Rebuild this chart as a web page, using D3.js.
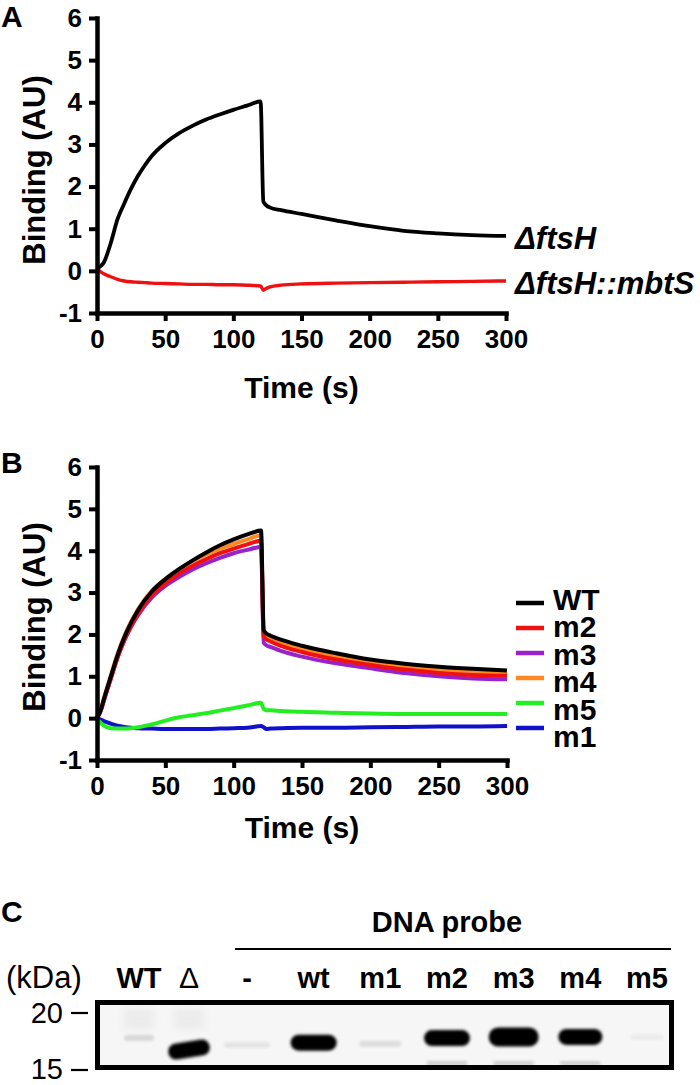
<!DOCTYPE html>
<html>
<head>
<meta charset="utf-8">
<script src="https://cdn.jsdelivr.net/npm/d3@7"></script>
<style>
  html, body { margin: 0; padding: 0; background: #fff; }
  svg { display: block; font-family: "Liberation Sans", Arial, Helvetica, sans-serif; }
</style>
</head>
<body>
<svg id="fig" width="700" height="1085"></svg>
<script>
// ---------------- Panel A data ----------------
const timeA = [0, 3, 5, 10, 15, 20, 25, 30, 35, 40, 50, 60, 70, 80, 90, 100, 110, 120, 122, 124, 127, 135, 150, 175, 200, 225, 250, 275, 300];
const ftsH = [0.05, 0.12, 0.2, 0.65, 1.22, 1.6, 1.95, 2.25, 2.5, 2.72, 3.03, 3.26, 3.44, 3.59, 3.71, 3.82, 3.92, 4.02, 1.65, 1.56, 1.5, 1.44, 1.35, 1.2, 1.06, 0.95, 0.89, 0.85, 0.83];
const ftsHmbtS = [0.05, -0.03, -0.07, -0.14, -0.2, -0.24, -0.26, -0.27, -0.28, -0.29, -0.3, -0.31, -0.32, -0.32, -0.33, -0.33, -0.34, -0.36, -0.46, -0.42, -0.38, -0.34, -0.31, -0.29, -0.28, -0.27, -0.26, -0.25, -0.24];
const seriesNamesA = ["\u0394ftsH", "\u0394ftsH::mbtS"];
const seriesColorsA = ["#000000", "#ee1111"];

// ---------------- Panel B data ----------------
const timeB = [0, 3, 5, 10, 15, 20, 25, 30, 40, 50, 60, 70, 80, 90, 100, 110, 120, 122, 124, 127, 135, 150, 175, 200, 225, 250, 275, 300];
const WT = [0, 0.22, 0.45, 0.98, 1.5, 1.93, 2.28, 2.58, 3.02, 3.32, 3.56, 3.77, 3.96, 4.13, 4.27, 4.39, 4.48, 2.1, 2.02, 1.97, 1.87, 1.73, 1.55, 1.4, 1.3, 1.23, 1.18, 1.14];
const m2 = [0, 0.2, 0.42, 0.93, 1.44, 1.86, 2.2, 2.49, 2.93, 3.22, 3.45, 3.64, 3.8, 3.94, 4.05, 4.15, 4.24, 1.95, 1.88, 1.83, 1.72, 1.58, 1.4, 1.27, 1.16, 1.08, 1.03, 1.01];
const m3 = [0, 0.2, 0.42, 0.94, 1.45, 1.86, 2.19, 2.46, 2.88, 3.16, 3.37, 3.55, 3.7, 3.83, 3.94, 4.02, 4.09, 1.8, 1.74, 1.7, 1.6, 1.47, 1.31, 1.19, 1.08, 1.0, 0.95, 0.93];
const m4 = [0, 0.23, 0.47, 1.01, 1.53, 1.96, 2.31, 2.6, 3.04, 3.33, 3.56, 3.75, 3.91, 4.05, 4.16, 4.27, 4.37, 2.0, 1.95, 1.9, 1.8, 1.66, 1.48, 1.34, 1.23, 1.15, 1.1, 1.08];
const m5 = [-0.03, -0.12, -0.18, -0.24, -0.25, -0.25, -0.24, -0.22, -0.15, -0.06, 0.02, 0.07, 0.12, 0.18, 0.24, 0.3, 0.37, 0.22, 0.19, 0.19, 0.17, 0.15, 0.13, 0.11, 0.1, 0.1, 0.1, 0.1];
const m1 = [0, -0.04, -0.07, -0.13, -0.18, -0.21, -0.23, -0.24, -0.25, -0.26, -0.26, -0.26, -0.26, -0.25, -0.24, -0.23, -0.19, -0.22, -0.26, -0.25, -0.24, -0.23, -0.23, -0.22, -0.21, -0.2, -0.2, -0.19];
const seriesNamesB = ["WT", "m2", "m3", "m4", "m5", "m1"];
const seriesValuesB = [WT, m2, m3, m4, m5, m1];
const seriesColorsB = ["#000000", "#ee1111", "#9922cc", "#ff8822", "#22ee22", "#1111cc"];
const drawOrderB = ["m1", "m5", "m4", "m3", "m2", "WT"];

const yTicks = [-1, 0, 1, 2, 3, 4, 5, 6];
const xTicks = [0, 50, 100, 150, 200, 250, 300];

// ---------------- Panel C data ----------------
const controlLanes = ["WT", "\u0394"];
const probeLanes = ["-", "wt", "m1", "m2", "m3", "m4", "m5"];
const bandLanes = ["WT", "\u0394", "-", "wt", "m1", "m2", "m3", "m4", "m5"];
const bandKDa = [17.8, 16.8, 17.2, 17.4, 17.3, 17.8, 17.9, 17.9, 17.9];
const bandIntensity = [0.12, 1.0, 0.07, 1.0, 0.1, 1.0, 1.0, 1.0, 0.04];
const bandWidth = [30, 42, 46, 46, 42, 46, 50, 44, 34];
const faintLowerLanes = ["m2", "m3", "m4"];
const markerKDa = [20, 15];

const FONT = '"Liberation Sans", Arial, Helvetica, sans-serif';
const svg = d3.select("#fig");

const defs = svg.append("defs");
defs.append("filter").attr("id", "blur").attr("x", "-50%").attr("y", "-100%").attr("width", "200%").attr("height", "300%")
  .append("feGaussianBlur").attr("stdDeviation", 1.8);
defs.append("filter").attr("id", "blur2").attr("x", "-50%").attr("y", "-100%").attr("width", "200%").attr("height", "300%")
  .append("feGaussianBlur").attr("stdDeviation", 4);

function drawAxes(g, x, y, yTitleCenter, titleBaseline) {
  const ax = g.append("g").attr("transform", `translate(0,${y.range()[0]})`)
    .call(d3.axisBottom(x).tickValues(xTicks).tickFormat(d => String(d)).tickSize(8).tickSizeOuter(0).tickPadding(8.5));
  const ay = g.append("g").attr("transform", `translate(${x.range()[0]},0)`)
    .call(d3.axisLeft(y).tickValues(yTicks).tickFormat(d => String(d)).tickSize(8).tickSizeOuter(0).tickPadding(7));
  [ax, ay].forEach(a => {
    a.attr("font-family", null).attr("font-size", null);
    a.select(".domain").attr("stroke", "#000").attr("stroke-width", 4.5).attr("stroke-linecap", "square");
    a.selectAll(".tick line").attr("stroke", "#000").attr("stroke-width", 4);
    a.selectAll(".tick text").attr("fill", "#000").style("font-family", FONT)
      .style("font-size", "26px").style("font-weight", "bold");
  });
  ax.selectAll(".tick text").attr("dy", "0.71em");
  g.append("text").attr("x", (x.range()[0] + x.range()[1]) / 2).attr("y", titleBaseline)
    .attr("text-anchor", "middle").style("font-size", "30px").style("font-weight", "bold").text("Time (s)");
  g.append("text").attr("transform", `translate(45,${yTitleCenter}) rotate(-90)`)
    .attr("text-anchor", "middle").style("font-size", "31px").style("font-weight", "bold").text("Binding (AU)");
}

// ---------------- Panel A ----------------
{
  const g = svg.append("g");
  const x = d3.scaleLinear().domain([0, 300]).range([97, 506]);
  const y = d3.scaleLinear().domain([-1, 6]).range([313, 18]);
  g.append("text").attr("x", 1).attr("y", 27).style("font-size", "30px").style("font-weight", "bold").text("A");
  const line = d3.line().x((d, i) => x(timeA[i])).y(d => y(d)).curve(d3.curveMonotoneX);
  const seriesA = [ftsHmbtS, ftsH];
  const colsA = [seriesColorsA[1], seriesColorsA[0]];
  seriesA.forEach((s, k) => {
    g.append("path").attr("d", line(s)).attr("fill", "none").attr("stroke", colsA[k])
      .attr("stroke-width", k === 1 ? 3.8 : 3.4).attr("stroke-linejoin", "round");
  });
  drawAxes(g, x, y, 170, 398);
  [ftsH, ftsHmbtS].forEach((s, k) => {
    g.append("text").attr("x", 515).attr("y", y(s[s.length - 1]) + 13)
      .style("font-size", "31px").style("font-weight", "bold").style("font-style", "italic")
      .text(seriesNamesA[k]);
  });
}

// ---------------- Panel B ----------------
{
  const g = svg.append("g");
  const x = d3.scaleLinear().domain([0, 300]).range([97, 507]);
  const y = d3.scaleLinear().domain([-1, 6]).range([760, 467]);
  g.append("text").attr("x", 1).attr("y", 473).style("font-size", "30px").style("font-weight", "bold").text("B");
  const line = d3.line().x((d, i) => x(timeB[i])).y(d => y(d)).curve(d3.curveMonotoneX);
  drawOrderB.forEach(name => {
    const k = seriesNamesB.indexOf(name);
    g.append("path").attr("d", line(seriesValuesB[k])).attr("fill", "none").attr("stroke", seriesColorsB[k])
      .attr("stroke-width", 4).attr("stroke-linejoin", "round");
  });
  drawAxes(g, x, y, 617, 838);
  const legLine = d3.scalePoint().domain(seriesNamesB).range([603, 728]);
  const legText = d3.scalePoint().domain(seriesNamesB).range([610, 747]);
  seriesNamesB.forEach((name, k) => {
    g.append("line").attr("x1", 516).attr("x2", 544).attr("y1", legLine(name)).attr("y2", legLine(name))
      .attr("stroke", seriesColorsB[k]).attr("stroke-width", 4.5);
    g.append("text").attr("x", 553).attr("y", legText(name))
      .style("font-size", "30px").style("font-weight", "bold").text(name);
  });
}

// ---------------- Panel C ----------------
{
  const g = svg.append("g");
  g.append("text").attr("x", 1).attr("y", 922).style("font-size", "30px").style("font-weight", "bold").text("C");
  const xCtrl = d3.scalePoint().domain(controlLanes).range([139, 189]);
  const xProbe = d3.scalePoint().domain(probeLanes).range([247, 647]);
  const laneX = l => controlLanes.includes(l) ? xCtrl(l) : xProbe(l);
  const yKDa = d3.scaleLinear().domain([15, 20]).range([1070, 1013]);

  g.append("text").attr("x", 447).attr("y", 932).attr("text-anchor", "middle")
    .style("font-size", "29px").style("font-weight", "bold").text("DNA probe");
  g.append("line").attr("x1", 235).attr("x2", 671).attr("y1", 949).attr("y2", 949)
    .attr("stroke", "#000").attr("stroke-width", 2.2);

  g.append("text").attr("x", 6).attr("y", 988).style("font-size", "31px").text("(kDa)");
  bandLanes.forEach(l => {
    g.append("text").attr("x", laneX(l)).attr("y", 988).attr("text-anchor", "middle")
      .style("font-size", l === "\u0394" ? "30px" : "29px")
      .style("font-weight", l === "\u0394" ? "normal" : "bold").text(l);
  });

  g.append("rect").attr("x", 97.5).attr("y", 1002.5).attr("width", 574).attr("height", 65)
    .attr("fill", "#f6f6f6");
  ["WT", "\u0394"].forEach(l => {
    g.append("rect").attr("x", laneX(l) - 16).attr("y", 1008).attr("width", 32).attr("height", 22)
      .attr("fill", "#000").attr("opacity", 0.04).attr("filter", "url(#blur2)");
  });
  faintLowerLanes.forEach(l => {
    g.append("rect").attr("x", laneX(l) - 20).attr("y", 1061).attr("width", 40).attr("height", 5)
      .attr("fill", "#000").attr("opacity", 0.15).attr("filter", "url(#blur)");
  });
  bandLanes.forEach((l, i) => {
    const w = bandWidth[i];
    const h = bandIntensity[i] > 0.5 ? (l === "m3" ? 19 : 16) : 6;
    const cy = yKDa(bandKDa[i]);
    const r = g.append("rect").attr("x", laneX(l) - w / 2).attr("y", cy - h / 2)
      .attr("width", w).attr("height", h).attr("rx", h / 2).attr("ry", h / 2)
      .attr("fill", "#000").attr("opacity", bandIntensity[i]).attr("filter", "url(#blur)");
    if (l === "\u0394") r.attr("transform", `rotate(-9,${laneX(l)},${cy})`);
  });
  g.append("rect").attr("x", 97.5).attr("y", 1002.5).attr("width", 574).attr("height", 65)
    .attr("fill", "none").attr("stroke", "#000").attr("stroke-width", 5);

  markerKDa.forEach(k => {
    g.append("text").attr("x", 63).attr("y", yKDa(k) + (k === 15 ? 9 : 10)).attr("text-anchor", "end")
      .style("font-size", "29px").text(String(k));
    g.append("line").attr("x1", 71).attr("x2", 88).attr("y1", yKDa(k)).attr("y2", yKDa(k))
      .attr("stroke", "#000").attr("stroke-width", 2.2);
  });
}
</script>
</body>
</html>
